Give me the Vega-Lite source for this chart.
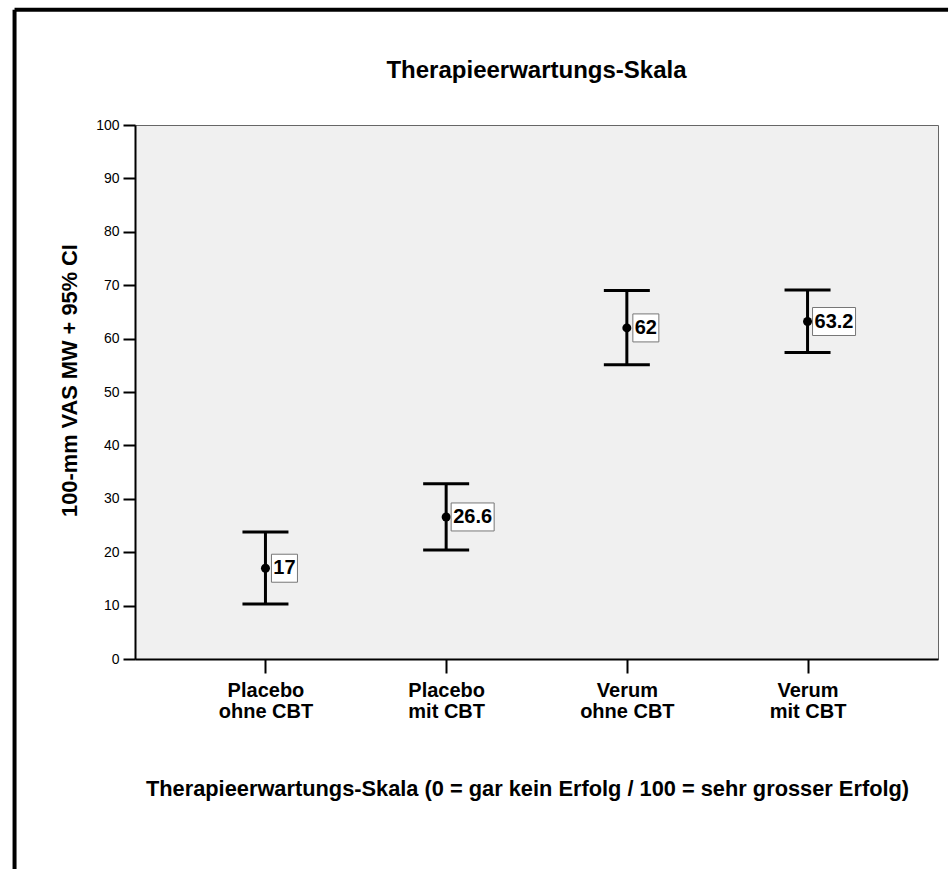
{
  "$schema": "https://vega.github.io/schema/vega-lite/v6.json",
  "width": 803,
  "height": 534,
  "autosize": {"type": "none"},
  "padding": {"left": 135, "top": 125, "right": 13, "bottom": 210},
  "background": "white",
  "title": {
    "text": "Therapieerwartungs-Skala",
    "fontSize": 24,
    "fontWeight": "bold",
    "font": "Liberation Sans",
    "color": "black",
    "anchor": "middle",
    "baseline": "alphabetic",
    "offset": -94
  },
  "data": {
    "values": [
      {"gruppe": "Placebo\nohne CBT", "mw": 17, "unten": 10.3, "oben": 23.8},
      {"gruppe": "Placebo\nmit CBT", "mw": 26.6, "unten": 20.4, "oben": 32.8},
      {"gruppe": "Verum\nohne CBT", "mw": 62, "unten": 55.1, "oben": 69.0},
      {"gruppe": "Verum\nmit CBT", "mw": 63.2, "unten": 57.4, "oben": 69.1}
    ]
  },
  "resolve": {"scale": {"x": "independent"}, "axis": {"x": "independent"}},
  "layer": [
    {
      "encoding": {
        "x": {
          "field": "gruppe",
          "type": "ordinal",
          "sort": null,
          "scale": {"type": "point", "padding": 0.722},
          "axis": {
            "title": "Therapieerwartungs-Skala (0 = gar kein Erfolg / 100 = sehr grosser Erfolg)",
            "labelAngle": 0,
            "labelExpr": "split(datum.label, '\\n')",
            "labelFontSize": 20,
            "labelFontWeight": "bold",
            "labelLineHeight": 21,
            "labelPadding": 7,
            "labelBaseline": "top",
            "labelColor": "black",
            "tickSize": 14,
            "tickWidth": 2,
            "tickColor": "black",
            "domainColor": "black",
            "domainWidth": 2,
            "titleFontSize": 21.8,
            "titleFontWeight": "bold",
            "titleColor": "black",
            "titleX": 392,
            "titleY": 136,
            "titleBaseline": "alphabetic",
            "titleAlign": "center",
            "grid": false
          }
        }
      },
      "layer": [
        {
          "mark": {"type": "rule", "strokeWidth": 3, "color": "black"},
          "encoding": {
            "y": {
              "field": "unten",
              "type": "quantitative",
              "scale": {"domain": [0, 100], "nice": false},
              "axis": {
                "title": "100-mm VAS MW + 95% CI",
                "values": [0, 10, 20, 30, 40, 50, 60, 70, 80, 90, 100],
                "tickSize": 12,
                "tickWidth": 2,
                "tickColor": "black",
                "domainColor": "black",
                "domainWidth": 2,
                "labelFontSize": 14,
                "labelPadding": 4,
                "labelColor": "black",
                "grid": false,
                "titleFontSize": 21.8,
                "titleFontWeight": "bold",
                "titleColor": "black",
                "titleX": -59,
                "titleY": 255,
                "titleBaseline": "alphabetic",
                "titleAlign": "center",
                "titleAngle": -90
              }
            },
            "y2": {"field": "oben"}
          }
        },
        {
          "mark": {"type": "tick", "size": 46, "thickness": 3, "color": "black", "opacity": 1},
          "encoding": {"y": {"field": "oben", "type": "quantitative"}}
        },
        {
          "mark": {"type": "tick", "size": 46, "thickness": 3, "color": "black", "opacity": 1},
          "encoding": {"y": {"field": "unten", "type": "quantitative"}}
        },
        {
          "mark": {"type": "point", "filled": true, "size": 81, "color": "black", "opacity": 1},
          "encoding": {"y": {"field": "mw", "type": "quantitative"}}
        },
        {
          "transform": [{"filter": "length(toString(datum.mw)) <= 2"}],
          "layer": [
            {
              "mark": {"type": "rect", "width": 26, "height": 28, "xOffset": 19, "fill": "white", "stroke": "#777777", "strokeWidth": 1},
              "encoding": {"y": {"field": "mw", "type": "quantitative"}}
            },
            {
              "mark": {"type": "text", "fontSize": 20, "fontWeight": "bold", "align": "center", "baseline": "middle", "xOffset": 19, "color": "black"},
              "encoding": {
                "y": {"field": "mw", "type": "quantitative"},
                "text": {"field": "mw", "type": "nominal"}
              }
            }
          ]
        },
        {
          "transform": [{"filter": "length(toString(datum.mw)) > 2"}],
          "layer": [
            {
              "mark": {"type": "rect", "width": 43, "height": 28, "xOffset": 26.5, "fill": "white", "stroke": "#777777", "strokeWidth": 1},
              "encoding": {"y": {"field": "mw", "type": "quantitative"}}
            },
            {
              "mark": {"type": "text", "fontSize": 20, "fontWeight": "bold", "align": "center", "baseline": "middle", "xOffset": 26.5, "color": "black"},
              "encoding": {
                "y": {"field": "mw", "type": "quantitative"},
                "text": {"field": "mw", "type": "nominal"}
              }
            }
          ]
        }
      ]
    },
    {
      "data": {"values": [{}]},
      "layer": [
        {
          "mark": {"type": "rule", "strokeWidth": 4, "color": "black", "clip": false},
          "encoding": {
            "x": {"datum": -0.15, "type": "quantitative", "scale": {"domain": [0, 1], "nice": false, "zero": false}, "axis": null},
            "x2": {"datum": 1.0125},
            "y": {"datum": 121.6, "type": "quantitative"}
          }
        },
        {
          "mark": {"type": "rule", "strokeWidth": 4, "color": "black", "clip": false},
          "encoding": {
            "x": {"datum": -0.15, "type": "quantitative", "scale": {"domain": [0, 1], "nice": false, "zero": false}, "axis": null},
            "y": {"datum": 121.6, "type": "quantitative"},
            "y2": {"datum": -41}
          }
        }
      ]
    }
  ],
  "config": {
    "font": "Liberation Sans",
    "view": {"fill": "#f0f0f0", "stroke": "#666666", "strokeWidth": 1}
  }
}
